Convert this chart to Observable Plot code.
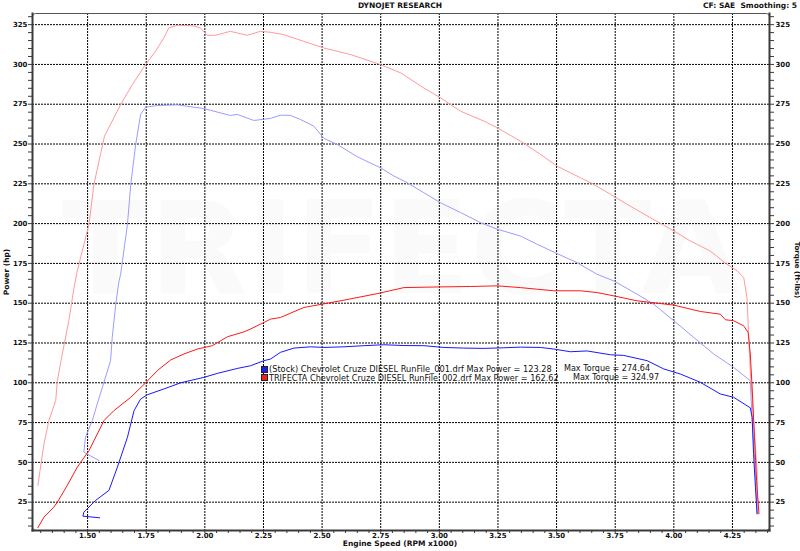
<!DOCTYPE html>
<html><head><meta charset="utf-8">
<script src="https://cdn.jsdelivr.net/npm/d3@7"></script>
<script src="https://cdn.jsdelivr.net/npm/@observablehq/plot@0.6"></script>
<style>
body{margin:0;background:#fff;}
#wrap{position:relative;width:800px;height:551px;font-family:"DejaVu Sans",Verdana,sans-serif;color:#111;}
.lbl{position:absolute;font-size:7.5px;font-weight:bold;white-space:nowrap;line-height:1;}
.leg{position:absolute;font-size:7.5px;white-space:nowrap;line-height:1;color:#111;}
.sq{position:absolute;width:5px;height:5px;border:1px solid #222;}
</style></head><body><div id="wrap"></div>
<script>
// ---- data ----
const stockPowerRpm = [1.551,1.480,1.484,1.534,1.591,1.627,1.670,1.698,1.726,1.755,1.825,1.897,1.996,2.053,2.138,2.195,2.252,2.280,2.322,2.380,2.451,2.508,2.593,2.678,2.763,2.849,2.934,3.019,3.104,3.190,3.275,3.346,3.431,3.488,3.559,3.630,3.730,3.786,3.886,3.957,4.028,4.113,4.198,4.255,4.326,4.334,4.340,4.348,4.355];
const stockPowerHp  = [15.2,16.2,18.7,26.1,32.4,47.0,65.8,82.5,89.8,92.5,96.1,100.0,103.4,105.9,109.0,110.7,113.9,114.9,119.1,121.8,122.6,122.2,122.6,123.3,123.9,123.4,123.3,122.2,121.8,121.6,122.0,122.4,122.2,121.2,119.5,120.0,117.6,117.2,113.9,108.7,105.5,100.3,93.0,90.9,84.3,78.4,55.5,34.5,17.7];

const stockTorqueRpm = [1.548,1.484,1.491,1.520,1.541,1.563,1.598,1.605,1.620,1.634,1.641,1.670,1.684,1.705,1.726,1.747,1.797,1.882,1.996,2.109,2.138,2.209,2.280,2.322,2.365,2.408,2.465,2.508,2.565,2.650,2.749,2.806,2.863,2.934,3.005,3.091,3.176,3.247,3.346,3.416,3.502,3.587,3.672,3.744,3.843,3.914,4.000,4.085,4.170,4.255,4.326,4.334,4.348,4.355];
const stockTorqueLb  = [51.2,56.4,65.8,76.3,86.7,97.1,113.9,128.5,149.4,164.0,168.2,199.6,224.7,249.7,268.6,273.1,274.2,274.6,272.3,267.9,268.6,264.8,266.1,268.1,268.0,265.4,261.2,253.5,249.7,242.0,235.1,229.9,225.7,219.4,213.1,206.9,200.6,196.5,192.2,187.1,181.2,175.5,168.2,164.0,155.7,149.4,139.0,128.5,118.1,109.7,101.3,76.3,44.9,17.7];

const trifPowerRpm = [1.288,1.314,1.356,1.371,1.413,1.456,1.506,1.570,1.612,1.684,1.747,1.797,1.854,1.911,1.968,2.032,2.096,2.167,2.195,2.252,2.280,2.322,2.422,2.593,2.735,2.849,2.991,3.133,3.247,3.346,3.416,3.488,3.602,3.672,3.744,3.843,4.000,4.113,4.198,4.220,4.255,4.298,4.317,4.326,4.334,4.344,4.353,4.363];
const trifPowerHp  = [9.0,15.6,21.9,25.0,35.5,47.0,57.4,76.3,82.5,90.9,99.9,107.6,114.3,118.1,121.2,123.3,128.9,132.0,133.8,137.9,140.0,141.0,147.3,151.9,156.0,159.8,160.2,160.5,160.9,159.8,158.8,157.8,157.8,156.7,154.6,151.5,148.8,144.8,143.1,139.6,139.0,135.8,131.6,118.1,97.1,65.8,38.6,17.7];

const trifTorqueRpm = [1.288,1.297,1.314,1.335,1.364,1.371,1.392,1.420,1.442,1.456,1.506,1.527,1.555,1.572,1.612,1.641,1.691,1.747,1.790,1.825,1.846,1.882,1.953,1.981,2.010,2.045,2.109,2.180,2.237,2.280,2.337,2.422,2.508,2.622,2.749,2.835,2.934,3.005,3.091,3.190,3.247,3.346,3.431,3.502,3.602,3.658,3.730,3.801,3.900,4.000,4.070,4.155,4.226,4.270,4.298,4.312,4.326,4.340,4.355,4.358];
const trifTorqueLb  = [35.5,44.9,61.6,76.3,88.8,101.3,118.1,139.0,159.8,170.3,199.6,224.7,243.5,255.0,266.4,274.8,287.4,299.9,308.3,316.6,322.9,324.6,324.2,322.9,318.3,318.3,320.8,318.3,320.8,320.2,318.7,314.5,310.3,306.2,299.9,294.7,285.2,279.0,270.6,264.4,260.2,251.8,243.5,236.1,228.8,224.7,218.4,212.1,203.7,195.4,189.1,182.8,174.5,170.3,166.1,153.6,107.6,76.3,44.9,17.7];

const majorX = [1.50,1.75,2.00,2.25,2.50,2.75,3.00,3.25,3.50,3.75,4.00,4.25];
const minorX = [1.30,1.35,1.40,1.45,1.55,1.60,1.65,1.70,1.80,1.85,1.90,1.95,2.05,2.10,2.15,2.20,2.30,2.35,2.40,2.45,2.55,2.60,2.65,2.70,2.80,2.85,2.90,2.95,3.05,3.10,3.15,3.20,3.30,3.35,3.40,3.45,3.55,3.60,3.65,3.70,3.80,3.85,3.90,3.95,4.05,4.10,4.15,4.20,4.30,4.35,4.40];
const majorY = [25,50,75,100,125,150,175,200,225,250,275,300,325];
const minorY = [10,15,20,30,35,40,45,55,60,65,70,80,85,90,95,105,110,115,120,130,135,140,145,155,160,165,170,180,185,190,195,205,210,215,220,230,235,240,245,255,260,265,270,280,285,290,295,305,310,315,320,330];

const legendLines = [
  {text: "(Stock) Chevrolet Cruze DIESEL RunFile_001.drf Max Power = 123.28", torque: "Max Torque = 274.64", color: "#2020ee"},
  {text: "TRIFECTA Chevrolet Cruze DIESEL RunFile_002.drf Max Power = 162.62", torque: "Max Torque = 324.97", color: "#ee2020"}
];

const zip = (xs, ys) => xs.map((x, i) => ({rpm: x, v: ys[i]}));

const gridStyle = {stroke: "#000", strokeOpacity: 1, strokeWidth: 1, strokeDasharray: "2,1"};
const axisColor = "#3a3a3a";

const chart = Plot.plot({
  width: 800, height: 551,
  marginLeft: 32, marginRight: 31, marginTop: 13, marginBottom: 21,
  x: {domain: [1.265, 4.408]},
  y: {domain: [7.2, 332]},
  style: {fontFamily: "'DejaVu Sans', Verdana, sans-serif", fontSize: "7px", fontWeight: "bold", color: "#111", background: "white"},
  marks: [
    Plot.text(["TRIFECTA"], {frameAnchor: "middle", text: d => d, fontSize: 128, fontWeight: "bold", fill: "#fafafa", dy: -20}),
    Plot.gridX(majorX, gridStyle),
    Plot.gridY(majorY, gridStyle),
    Plot.line(zip(stockTorqueRpm, stockTorqueLb), {x: "rpm", y: "v", stroke: "#9c9cff", strokeWidth: 1}),
    Plot.line(zip(trifTorqueRpm, trifTorqueLb), {x: "rpm", y: "v", stroke: "#ff9a9a", strokeWidth: 1}),
    Plot.line(zip(stockPowerRpm, stockPowerHp), {x: "rpm", y: "v", stroke: "#1818ff", strokeWidth: 1}),
    Plot.line(zip(trifPowerRpm, trifPowerHp), {x: "rpm", y: "v", stroke: "#ff1818", strokeWidth: 1}),
    Plot.frame({stroke: "#555", strokeWidth: 1, rx: 3}),
    Plot.frame({anchor: "left", stroke: axisColor, strokeWidth: 2}),
    Plot.frame({anchor: "bottom", stroke: axisColor, strokeWidth: 2}),
    Plot.frame({anchor: "right", stroke: axisColor, strokeWidth: 2}),
    Plot.axisX(minorX, {anchor: "bottom", tickSize: 3, fill: "none", label: null, stroke: axisColor}),
    Plot.axisX(majorX, {anchor: "bottom", tickSize: 3, tickPadding: 0, tickFormat: d3.format(".2f"), label: null, stroke: axisColor}),
    Plot.axisY(minorY, {anchor: "left", tickSize: 4, fill: "none", label: null, stroke: axisColor}),
    Plot.axisY(majorY, {anchor: "left", tickSize: 4, tickPadding: 1, label: null, stroke: axisColor}),
    Plot.axisY(minorY, {anchor: "right", tickSize: 4, fill: "none", label: null, stroke: axisColor}),
    Plot.axisY(majorY, {anchor: "right", tickSize: 4, tickPadding: 2, label: null, stroke: axisColor})
  ]
});

const wrap = document.getElementById("wrap");
wrap.appendChild(chart);

function add(cls, text, css) {
  const d = document.createElement("div");
  d.className = cls; d.textContent = text;
  Object.assign(d.style, css);
  wrap.appendChild(d);
  return d;
}
// fit a text's font size to a target width
function fit(d, target) {
  const w = d.getBoundingClientRect().width;
  const fs = parseFloat(getComputedStyle(d).fontSize);
  if (w > 0) d.style.fontSize = (fs * target / w).toFixed(2) + "px";
}
add("lbl", "DYNOJET RESEARCH", {left: "400px", top: "2px", transform: "translateX(-50%)"});
add("lbl", "CF: SAE  Smoothing: 5", {right: "3px", top: "2px", whiteSpace: "pre"});
add("lbl", "Engine Speed (RPM x1000)", {left: "400px", top: "540px", transform: "translateX(-50%)"});
add("lbl", "Power (hp)", {left: "7px", top: "272px", transform: "translate(-50%,-50%) rotate(-90deg)"});
add("lbl", "Torque (ft-lbs)", {left: "796px", top: "270px", fontSize: "7px", transform: "translate(-50%,-50%) rotate(90deg)"});

const legendTargets = [[283, 86], [290, 86]];
legendLines.forEach((l, i) => {
  const top = 365 + i * 8.5;
  add("sq", "", {left: "261px", top: (top + 0.5) + "px", background: l.color});
  const a = add("leg", l.text, {left: "269px", top: top + "px"});
  fit(a, legendTargets[i][0]);
  const b = add("leg", l.torque, {left: (564 + i * 9) + "px", top: top + "px"});
  fit(b, legendTargets[i][1]);
});
</script></body></html>
